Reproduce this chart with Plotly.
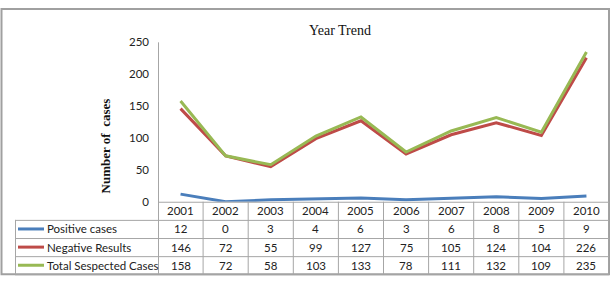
import plotly.graph_objects as go

years = ["2001", "2002", "2003", "2004", "2005", "2006", "2007", "2008", "2009", "2010"]
positive = [12, 0, 3, 4, 6, 3, 6, 8, 5, 9]
negative = [146, 72, 55, 99, 127, 75, 105, 124, 104, 226]
total = [158, 72, 58, 103, 133, 78, 111, 132, 109, 235]
series_names = ["Positive cases", "Negative Results", "Total Sespected Cases"]
series_values = [positive, negative, total]
colors = ["#4A7EBB", "#BE4B48", "#98B954"]
y_ticks = [0, 50, 100, 150, 200, 250]

W, H = 615, 287
def px(x):
    return x / W
def py(y):
    return 1 - y / H

plot_left, plot_right = 158, 609
plot_top, plot_bottom = 37, 204
row_lines = [204, 223, 242, 261, 280]
label_left = 15
grid = "#A6A6A6"

fig = go.Figure()
for name, vals, c in zip(series_names, series_values, colors):
    fig.add_trace(go.Scatter(x=list(range(len(years))), y=vals, mode="lines", name=name,
                             line=dict(color=c, width=3), showlegend=False, hoverinfo="skip"))

shapes = []
# outer frame
shapes.append(dict(type="rect", xref="paper", yref="paper", x0=px(1.5), x1=px(609), y0=py(280), y1=py(2),
                   line=dict(color="#A0A0A0", width=2)))
# horizontal table lines
for i, yy in enumerate(row_lines):
    x0 = plot_left if i == 0 else label_left
    shapes.append(dict(type="line", xref="paper", yref="paper", x0=px(x0), x1=px(plot_right), y0=py(yy + 0.5), y1=py(yy + 0.5),
                       line=dict(color=grid, width=1)))
# vertical lines
shapes.append(dict(type="line", xref="paper", yref="paper", x0=px(label_left + 0.5), x1=px(label_left + 0.5),
                   y0=py(row_lines[1]), y1=py(row_lines[-1]), line=dict(color=grid, width=1)))
shapes.append(dict(type="line", xref="paper", yref="paper", x0=px(plot_left + 0.5), x1=px(plot_left + 0.5),
                   y0=py(plot_top), y1=py(row_lines[-1]), line=dict(color=grid, width=1)))
for k in range(len(years)):
    shapes.append(dict(type="line", xref="x", yref="paper", x0=k + 0.5, x1=k + 0.5,
                       y0=py(row_lines[0]), y1=py(row_lines[-1]), line=dict(color=grid, width=1)))

annotations = []
font_t = dict(family="Lato", size=11.5, color="#222")
for k, yr in enumerate(years):
    annotations.append(dict(x=k, y=py((row_lines[0] + row_lines[1]) / 2), xref="x", yref="paper",
                            text=yr, showarrow=False, font=font_t, xanchor="center", yanchor="middle"))
for r, (name, vals, c) in enumerate(zip(series_names, series_values, colors)):
    yc = (row_lines[r + 1] + row_lines[r + 2]) / 2
    shapes.append(dict(type="line", xref="paper", yref="paper", x0=px(18), x1=px(44), y0=py(yc), y1=py(yc),
                       line=dict(color=c, width=3)))
    annotations.append(dict(x=px(45), y=py(yc), xref="paper", yref="paper", text=name, showarrow=False,
                            font=font_t, xanchor="left", yanchor="middle"))
    for k, v in enumerate(vals):
        annotations.append(dict(x=k, y=py(yc), xref="x", yref="paper", text=str(v), showarrow=False,
                                font=font_t, xanchor="center", yanchor="middle"))

annotations.append(dict(x=px(340), y=py(25), xref="paper", yref="paper", text="Year Trend", showarrow=False,
                        font=dict(family="Liberation Serif", size=14, color="#111"), xanchor="center", yanchor="middle"))
annotations.append(dict(x=px(105), y=py(146), xref="paper", yref="paper", text="<b>Number of  cases</b>",
                        showarrow=False, textangle=-90,
                        font=dict(family="Liberation Serif", size=13, color="#111"), xanchor="center", yanchor="middle"))

fig.update_layout(
    width=W, height=H, margin=dict(l=0, r=0, t=0, b=0),
    paper_bgcolor="white", plot_bgcolor="white", hovermode=False,
    xaxis=dict(domain=[px(plot_left), px(plot_right)], range=[-0.5, len(years) - 0.5],
               showticklabels=False, showgrid=False, zeroline=False, showline=False, ticks=""),
    yaxis=dict(domain=[py(plot_bottom), py(plot_top)], range=[0, 250], tickvals=y_ticks,
               showgrid=False, zeroline=False, showline=False, ticks="", ticklabelstandoff=8,
               tickfont=dict(family="Lato", size=11.5, color="#222")),
    shapes=shapes, annotations=annotations,
)
fig.write_html("out.html", config={"displayModeBar": False},
               post_script="document.body.style.margin='0';document.body.style.overflow='hidden';")
